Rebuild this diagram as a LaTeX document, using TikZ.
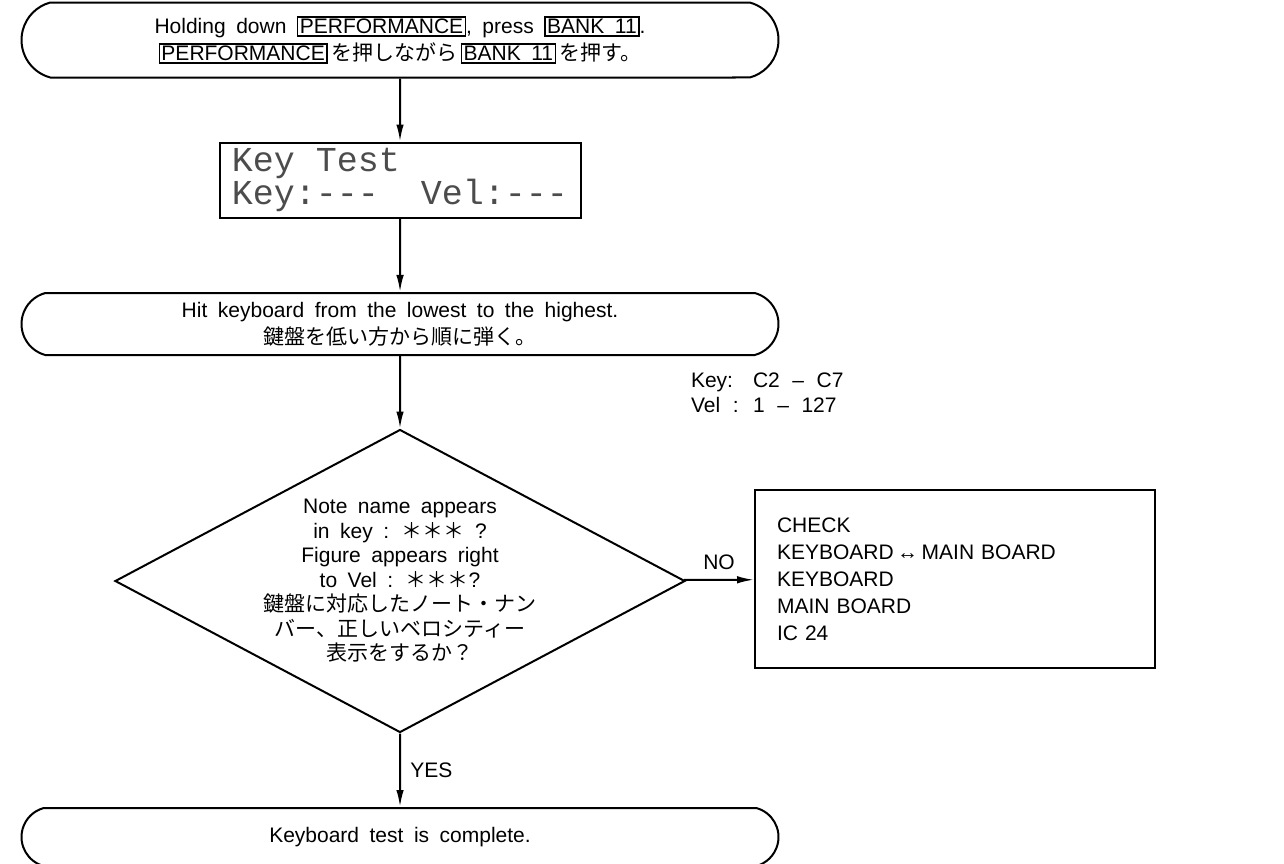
\documentclass[tikz,border=0pt]{standalone}
\usepackage{fontspec}
\setmainfont{Liberation Sans}
\newfontfamily\jafont{Noto Sans CJK JP}
\newfontfamily\lcdfont{Liberation Mono}
\usetikzlibrary{shapes.geometric,shapes.misc,arrows.meta}
\newcommand{\panelkey}[1]{{\setlength{\fboxsep}{1.5pt}\setlength{\fboxrule}{1.4pt}\fbox{#1}}}
\newcommand{\stars}{{\jafont ＊＊＊}}
\newcommand{\widespace}{\spaceskip=0.5em plus 0.1em minus 0.05em\relax}
\newcommand{\rangespace}{\spaceskip=0.6em plus 0.1em\relax}
\newcommand{\rangelabel}[1]{\makebox[62pt][l]{#1}}

\begin{document}
\begin{tikzpicture}[x=1pt,y=1pt,line width=2pt,
		terminal/.style={draw, rounded rectangle, rounded rectangle arc length=150, minimum width=757pt, align=center, inner sep=0pt},
		display/.style={draw, minimum width=361pt, minimum height=75pt, align=left, inner xsep=12pt, text=black!70, font=\lcdfont\fontsize{35}{29}\selectfont},
		decision/.style={draw, diamond, minimum width=570pt, minimum height=303pt, inner sep=0pt},
		checkbox/.style={draw, minimum width=400pt, minimum height=178pt, align=left, text width=356pt},
		every node/.style={font=\fontsize{21}{27}\selectfont\widespace},
		flow/.style={-{Latex[length=17pt,width=7.5pt]}}]
	\useasboundingbox (0,0) rectangle (1284,-863);
	\node[terminal, minimum height=75pt] (start) at (400,-40)
		{Holding down \panelkey{PERFORMANCE}, press \panelkey{BANK 11}.\\
		 \panelkey{PERFORMANCE}\,{\jafont を押しながら}\,\panelkey{BANK 11}\,{\jafont を押す。}};
	\node[display] (lcd) at (400,-180) {Key Test\\Key:---\ \ Vel:---};
	\node[terminal, minimum height=62pt] (hit) at (400,-324)
		{Hit keyboard from the lowest to the highest.\\ {\jafont 鍵盤を低い方から順に弾く。}};
	\node[anchor=north west, inner sep=0pt, align=left, font=\fontsize{21}{25}\selectfont\rangespace] (range) at (690,-372)
		{\rangelabel{Key:}C2 -- C7\\{}\rangelabel{Vel :}1 -- 127};
	\node[decision] (check) at (400,-581) {};
	\node[align=center, font=\fontsize{21}{24.5}\selectfont\widespace] (question) at (check)
		{Note name appears\\ in key : \stars\ ?\\ Figure appears right\\ to Vel : \stars ?\\
		 {\jafont 鍵盤に対応したノート・ナン}\\ {\jafont バー、正しいベロシティー}\\ {\jafont 表示をするか？}};
	\node[checkbox] (fault) at (955,-579)
		{CHECK\\ KEYBOARD\,↔\,MAIN BOARD\\ KEYBOARD\\ MAIN BOARD\\ IC 24};
	\node[terminal, minimum height=58pt] (done) at (400,-837) {Keyboard test is complete.};

	\path[flow]
	(start) edge (lcd)
	(lcd) edge (hit)
	(check) edge node[above=6pt]{NO} (fault)
	edge node[right=6pt]{YES} (done);
	\draw[flow] (hit) -- (check.north);
\end{tikzpicture}
\end{document}
